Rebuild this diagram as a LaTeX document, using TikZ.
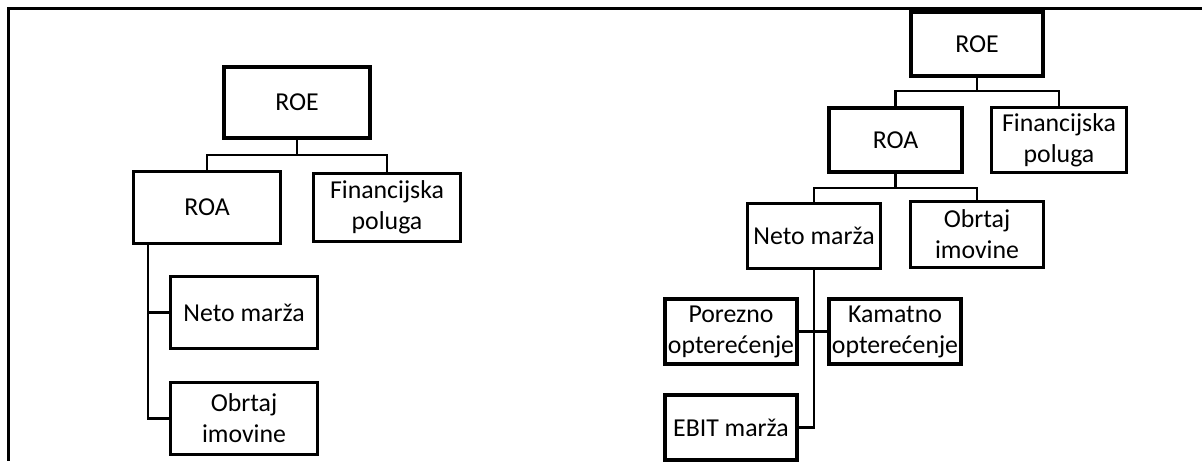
\documentclass[tikz,border=0pt]{standalone}
\usepackage{fontspec}
\setmainfont{Carlito}
\begin{document}
\begin{tikzpicture}[x=1pt,y=-1pt,
  box/.style={draw=black,line width=3.5pt,inner sep=0pt,align=center,
    font=\fontsize{25.8}{31}\selectfont},
  conn/.style={draw=black,line width=2.2pt},
  frame/.style={draw=black,line width=3pt}]
\useasboundingbox (0,0) rectangle (1202,461);
% frame
\coordinate (fTL) at (8.5,8.5);
\coordinate (fTR) at (1202,8.5);
\coordinate (fBL) at (8.5,461);
\draw[frame] (fTR) -- (fTL) -- (fBL);
% left tree
\node[box,minimum width=146pt,minimum height=71pt] (lROE) at (297,102.5) {ROE};
\node[box,line width=3pt,minimum width=147pt,minimum height=72pt] (lROA) at (207,207.5) {ROA};
\node[box,line width=3pt,minimum width=147pt,minimum height=68pt] (lFin) at (387,207.5) {Financijska\\poluga};
\node[box,line width=3pt,minimum width=147pt,minimum height=72pt] (lNeto) at (244,312.5) {Neto marža};
\node[box,line width=3pt,minimum width=147pt,minimum height=72pt] (lObr) at (244,418.5) {Obrtaj\\imovine};
\coordinate (lbar) at (0,155);
\coordinate (lbus) at (148,0);
\draw[conn] (lROE.south) -- (lROE.south |- lbar) -| (lROA.north);
\draw[conn] (lROE.south |- lbar) -| (lFin.north);
\draw[conn] (lROA.south -| lbus) |- (lObr.west);
\draw[conn] (lNeto.west) -- (lNeto.west -| lbus);
% right tree
\node[box,minimum width=132pt,minimum height=64pt] (rROE) at (977,44) {ROE};
\node[box,minimum width=133pt,minimum height=64pt] (rROA) at (895.5,140) {ROA};
\node[box,line width=3pt,minimum width=135pt,minimum height=65pt] (rFin) at (1059,140) {Financijska\\poluga};
\node[box,line width=3pt,minimum width=133pt,minimum height=65pt] (rNeto) at (814,236) {Neto marža};
\node[box,line width=3pt,minimum width=133pt,minimum height=66pt] (rObr) at (977,234.5) {Obrtaj\\imovine};
\node[box,minimum width=132pt,minimum height=65pt] (rPor) at (731,331.5) {Porezno\\opterećenje};
\node[box,minimum width=132pt,minimum height=65pt] (rKam) at (895,331.5) {Kamatno\\opterećenje};
\node[box,minimum width=132pt,minimum height=65pt] (rEBIT) at (731,427.5) {EBIT marža};
\coordinate (rbar1) at (0,91);
\coordinate (rbar2) at (0,188);
\draw[conn] (rROE.south) -- (rROE.south |- rbar1) -| (rROA.north);
\draw[conn] (rROE.south |- rbar1) -| (rFin.north);
\draw[conn] (rROA.south) -- (rROA.south |- rbar2) -| (rNeto.north);
\draw[conn] (rROA.south |- rbar2) -| (rObr.north);
\draw[conn] (rNeto.south) |- (rEBIT.east);
\draw[conn] (rPor.east) -- (rKam.west);
\end{tikzpicture}
\end{document}
